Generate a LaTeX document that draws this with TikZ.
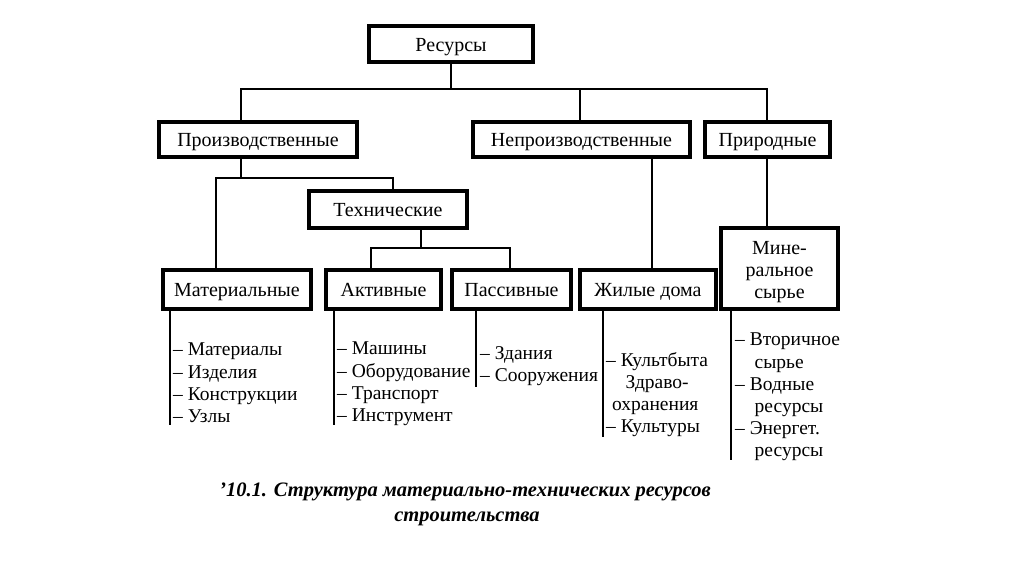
\documentclass[tikz,border=0pt]{standalone}
\usepackage{fontspec}
\setmainfont{Liberation Serif}
\begin{document}
\begin{tikzpicture}[x=1pt,y=-1pt,
  box/.style={draw,line width=3.3pt,rectangle,inner sep=0pt,align=center,text height=18pt,text depth=4pt,font=\fontsize{20}{22}\selectfont},
  conn/.style={line width=1.4pt},
  lst/.style={anchor=north west,inner sep=0pt,align=left,font=\fontsize{19.5}{22.2}\selectfont},
  captext/.style={inner sep=0pt,font=\fontsize{20.5}{22}\selectfont\bfseries\itshape}]
\useasboundingbox (0,0) rectangle (1024,574);
% boxes
\node[box,minimum width=164pt,minimum height=36pt] (res) at (451,44) {Ресурсы};
\node[box,minimum width=198pt,minimum height=35pt] (prod) at (258,139.5) {Производственные};
\node[box,minimum width=217pt,minimum height=35pt] (neprod) at (581.5,139.5) {Непроизводственные};
\node[box,minimum width=125pt,minimum height=35pt] (prir) at (767.5,139.5) {Природные};
\node[box,minimum width=158pt,minimum height=37pt] (tech) at (388,209.5) {Технические};
\node[box,minimum width=148pt,minimum height=39pt] (mat) at (237,289.5) {Материальные};
\node[box,minimum width=115pt,minimum height=39pt] (akt) at (383.5,289.5) {Активные};
\node[box,minimum width=119pt,minimum height=39pt] (pas) at (511.5,289.5) {Пассивные};
\node[box,minimum width=136pt,minimum height=39pt] (zhil) at (648,289.5) {Жилые дома};
\node[draw,line width=3.3pt,rectangle,inner sep=0pt,align=center,font=\fontsize{20}{22}\selectfont,minimum width=117pt,minimum height=81pt] (min) at (779.5,268.5) {\rule{0pt}{20pt}Мине-\\ральное\\сырье};
% bus coordinates
\coordinate (busL) at (241,89);
\coordinate (busR) at (767,89);
\coordinate (busM) at (580,89);
\coordinate (b2L) at (216,178);
\coordinate (b2R) at (393,178);
\coordinate (t3) at (421,248);
\coordinate (b3L) at (371,248);
\coordinate (b3R) at (510,248);
\coordinate (nx) at (652,0);
% connectors
\draw[conn] (res.south) -- (res.south |- busL);
\draw[conn] (prod.north -| busL) -- (busL) -- (busR) -- (prir.north -| busR);
\draw[conn] (busM) -- (neprod.north -| busM);
\draw[conn] (prod.south -| busL) -- (busL |- b2L);
\draw[conn] (mat.north -| b2L) -- (b2L) -- (b2R) -- (tech.north -| b2R);
\draw[conn] (tech.south -| t3) -- (t3);
\draw[conn] (akt.north -| b3L) -- (b3L) -- (b3R) -- (pas.north -| b3R);
\draw[conn] (neprod.south -| nx) -- (zhil.north -| nx);
\draw[conn] (prir.south -| busR) -- (min.north -| busR);
% list lines
\coordinate (l1) at (170,425);
\coordinate (l2) at (334,425);
\coordinate (l3) at (476,387);
\coordinate (l4) at (603,437);
\coordinate (l5) at (731,460);
\draw[conn] (mat.south -| l1) -- (l1);
\draw[conn] (akt.south -| l2) -- (l2);
\draw[conn] (pas.south -| l3) -- (l3);
\draw[conn] (zhil.south -| l4) -- (l4);
\draw[conn] (min.south -| l5) -- (l5);
% lists
\node[lst] (t1) at (173,343) {– Материалы\\– Изделия\\– Конструкции\\– Узлы};
\node[lst] (t2) at (337,342) {– Машины\\– Оборудование\\– Транспорт\\– Инструмент};
\node[lst] (t3t) at (480,346) {– Здания\\– Сооружения};
\node[lst] (t4) at (606,352) {– Культбыта\\\hspace*{1em}Здраво-\\\hspace*{0.3em}охранения\\– Культуры};
\node[lst] (t5) at (735,333) {– Вторичное\\\hspace*{1em}сырье\\– Водные\\\hspace*{1em}ресурсы\\– Энергет.\\\hspace*{1em}ресурсы};
% caption
\node[captext] (c1) at (465,492) {'10.1. Структура материально-технических ресурсов};
\node[captext] (c2) at (467,519) {строительства};
\end{tikzpicture}
\end{document}
